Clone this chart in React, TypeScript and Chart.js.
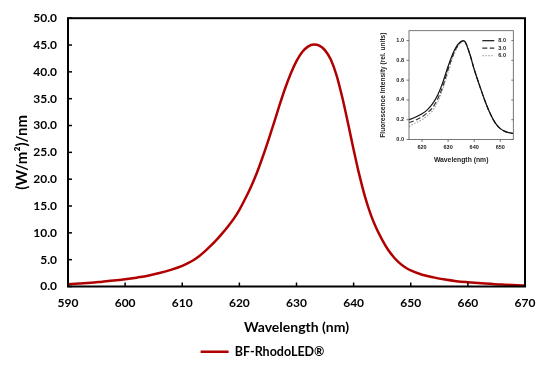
import React, { useEffect, useRef } from "react";
import { Chart, registerables } from "chart.js";

Chart.register(...registerables);

// ---- Main chart data ----
const wavelengths = [
  590, 592, 594, 596, 598, 600, 602, 604, 606, 608, 610, 611, 612, 613, 614, 615, 616, 617, 618, 619,
  620, 621, 622, 623, 624, 625, 626, 627, 628, 629, 630, 631, 632, 633, 634, 635, 636, 637, 638, 639,
  640, 641, 642, 643, 644, 645, 646, 647, 648, 649, 650, 652, 654, 656, 658, 660, 663, 666, 670,
];
const irradiance = [
  0.4, 0.55, 0.7, 0.9, 1.1, 1.35, 1.65, 2.0, 2.5, 3.1, 3.85, 4.35, 4.95, 5.7, 6.6, 7.6, 8.7, 9.9, 11.2, 12.6,
  14.3, 16.3, 18.5, 21.0, 23.9, 27.0, 30.3, 33.7, 36.9, 39.7, 42.0, 43.7, 44.7, 45.1, 44.9, 44.0, 42.3, 39.4, 35.3, 30.5,
  25.5, 20.8, 16.7, 13.4, 10.8, 8.7, 6.9, 5.5, 4.4, 3.6, 3.0, 2.2, 1.7, 1.3, 1.0, 0.8, 0.55, 0.35, 0.2,
];
const seriesLabel = "BF-RhodoLED®";
const xTitle = "Wavelength (nm)";
const yTitle = "(W/m²)/nm";

// ---- Inset data ----
const insetWavelengths = [615, 617, 620, 622, 624, 626, 628, 630, 632, 634, 636, 638, 640, 642, 644, 646, 648, 650, 652, 655];
const insetSolid = [0.2, 0.22, 0.26, 0.3, 0.36, 0.45, 0.58, 0.74, 0.88, 0.97, 1.0, 0.89, 0.71, 0.55, 0.4, 0.27, 0.17, 0.11, 0.08, 0.06];
const insetDashed = [0.17, 0.19, 0.23, 0.27, 0.32, 0.41, 0.54, 0.71, 0.86, 0.96, 1.0, 0.89, 0.71, 0.55, 0.4, 0.27, 0.17, 0.11, 0.08, 0.06];
const insetDotted = [0.13, 0.16, 0.2, 0.24, 0.29, 0.38, 0.51, 0.68, 0.84, 0.95, 0.99, 0.89, 0.71, 0.55, 0.4, 0.27, 0.17, 0.11, 0.08, 0.06];
const insetLabels = ["8.0", "3.0", "6.0"];
const insetXTicks = [620, 630, 640, 650];
const insetYTicks = [0, 0.2, 0.4, 0.6, 0.8, 1.0];
const insetXTitle = "Wavelength (nm)";
const insetYTitle = "Fluorescence Intensity (rel. units)";

const FONT = "Lato, 'Open Sans', sans-serif";
const IFONT = "'Liberation Sans', Arial, sans-serif";

const frameTicks = {
  id: "frameTicks",
  afterDraw(chart: any, _args: any, opts: any) {
    const { ctx, chartArea } = chart;
    const { left, right, top, bottom } = chartArea;
    ctx.save();
    ctx.strokeStyle = opts.color;
    ctx.lineWidth = opts.tickWidth;
    const ys = chart.scales.y;
    ys.ticks.forEach((t: any) => {
      const p = ys.getPixelForValue(t.value);
      ctx.beginPath();
      ctx.moveTo(left, p);
      ctx.lineTo(left + opts.len, p);
      ctx.stroke();
      if (opts.rightLen) {
        ctx.beginPath();
        ctx.moveTo(right, p);
        ctx.lineTo(right - opts.rightLen, p);
        ctx.stroke();
      }
    });
    const xs = chart.scales.x;
    xs.ticks.forEach((t: any) => {
      const p = xs.getPixelForValue(t.value);
      ctx.beginPath();
      ctx.moveTo(p, bottom);
      ctx.lineTo(p, bottom - opts.len);
      ctx.stroke();
    });
    ctx.lineWidth = opts.width;
    ctx.strokeRect(left, top, right - left, bottom - top);
    ctx.restore();
  },
};

const insetLegend = {
  id: "insetLegend",
  afterDraw(chart: any, _args: any, opts: any) {
    if (!opts || !opts.enabled) return;
    const { ctx, chartArea } = chart;
    ctx.save();
    chart.data.datasets.forEach((ds: any, i: number) => {
      const y = chartArea.top + 10 + i * 7.5;
      ctx.strokeStyle = ds.borderColor;
      ctx.lineWidth = ds.borderWidth;
      ctx.setLineDash(ds.borderDash || []);
      ctx.beginPath();
      ctx.moveTo(chartArea.right - 31, y);
      ctx.lineTo(chartArea.right - 19, y);
      ctx.stroke();
      ctx.setLineDash([]);
      ctx.fillStyle = "#222";
      ctx.font = `bold 5.5px ${IFONT}`;
      ctx.textBaseline = "middle";
      ctx.textAlign = "left";
      ctx.fillText(ds.label, chartArea.right - 15, y);
    });
    ctx.restore();
  },
};

export default function App() {
  const mainRef = useRef<HTMLCanvasElement | null>(null);
  const insetRef = useRef<HTMLCanvasElement | null>(null);

  useEffect(() => {
    document.body.style.margin = "0";
    const main = new Chart(mainRef.current as HTMLCanvasElement, {
      type: "line",
      data: {
        datasets: [
          {
            label: seriesLabel,
            data: wavelengths.map((w, i) => ({ x: w, y: irradiance[i] })),
            borderColor: "#B00000",
            backgroundColor: "#B00000",
            borderWidth: 2.5,
            pointRadius: 0,
            cubicInterpolationMode: "monotone",
            fill: false,
          },
        ],
      },
      options: {
        animation: false,
        responsive: false,
        maintainAspectRatio: false,
        layout: { padding: { top: 17, right: 22, left: 0, bottom: 3 } },
        scales: {
          x: {
            type: "linear",
            min: 590,
            max: 670,
            grid: { display: false, drawTicks: false },
            border: { display: false },
            ticks: {
              stepSize: 10,
              padding: 9,
              color: "#000",
              font: { family: FONT, size: 12, weight: "bold" },
              callback: (v: any) => String(v),
            },
            title: {
              display: true,
              text: xTitle,
              color: "#000",
              font: { family: FONT, size: 14, weight: "bold" },
              padding: { top: 0, bottom: 0 },
            },
            afterFit: (s: any) => {
              s.height = 49;
            },
          },
          y: {
            min: 0,
            max: 50,
            grid: { display: false, drawTicks: false },
            border: { display: false },
            ticks: {
              stepSize: 5,
              padding: 11,
              color: "#000",
              font: { family: FONT, size: 12, weight: "bold" },
              callback: (v: any) => Number(v).toFixed(1),
            },
            title: {
              display: true,
              text: yTitle,
              color: "#000",
              font: { family: FONT, size: 15, weight: "bold" },
              padding: { top: 13, bottom: 0 },
            },
            afterFit: (s: any) => {
              s.width = 68;
            },
          },
        },
        plugins: {
          legend: {
            position: "bottom",
            labels: {
              usePointStyle: true,
              pointStyle: "line",
              pointStyleWidth: 28,
              color: "#000",
              padding: 10,
              font: { family: FONT, size: 12.5, weight: "bold" },
            },
          },
          tooltip: { enabled: false },
          frameTicks: { color: "#000", width: 2, tickWidth: 1.5, len: 4 },
        } as any,
      },
      plugins: [frameTicks],
    } as any);

    const insetStyles = [
      { label: insetLabels[0], data: insetSolid, color: "#111", dash: [] as number[] },
      { label: insetLabels[1], data: insetDashed, color: "#333", dash: [5, 2.5] },
      { label: insetLabels[2], data: insetDotted, color: "#aaa", dash: [1.5, 1.5] },
    ];
    const inset = new Chart(insetRef.current as HTMLCanvasElement, {
      type: "line",
      data: {
        datasets: insetStyles.map((s) => ({
          label: s.label,
          data: insetWavelengths.map((w, i) => ({ x: w, y: s.data[i] })),
          borderColor: s.color,
          borderDash: s.dash,
          borderWidth: 1.2,
          pointRadius: 0,
          cubicInterpolationMode: "monotone",
          fill: false,
        })),
      },
      options: {
        animation: false,
        responsive: false,
        maintainAspectRatio: false,
        layout: { padding: { top: 10.7, right: 10.7, left: 0, bottom: 0 } },
        scales: {
          x: {
            type: "linear",
            min: 615,
            max: 655,
            grid: { display: false, drawTicks: false },
            border: { display: false },
            afterBuildTicks: (s: any) => {
              s.ticks = insetXTicks.map((v) => ({ value: v }));
            },
            ticks: {
              padding: 5,
              color: "#222",
              font: { family: IFONT, size: 5.5, weight: "bold" },
              callback: (v: any) => String(v),
            },
            title: {
              display: true,
              text: insetXTitle,
              color: "#222",
              font: { family: IFONT, size: 6.8, weight: "bold" },
              padding: { top: 0, bottom: 3.5 },
            },
            afterFit: (s: any) => {
              s.height = 28.5;
            },
          },
          y: {
            min: 0,
            max: 1.1,
            grid: { display: false, drawTicks: false },
            border: { display: false },
            afterBuildTicks: (s: any) => {
              s.ticks = insetYTicks.map((v) => ({ value: v }));
            },
            ticks: {
              padding: 5,
              color: "#222",
              font: { family: IFONT, size: 5.5, weight: "bold" },
              callback: (v: any) => Number(v).toFixed(1),
            },
            title: {
              display: true,
              text: insetYTitle,
              color: "#222",
              font: { family: IFONT, size: 6.6, weight: "bold" },
              padding: { top: 3, bottom: 0 },
            },
            afterFit: (s: any) => {
              s.width = 33;
            },
          },
        },
        plugins: {
          legend: { display: false },
          tooltip: { enabled: false },
          frameTicks: { color: "#555", width: 0.8, tickWidth: 0.8, len: -2.5, rightLen: 2 },
          insetLegend: { enabled: true },
        } as any,
      },
      plugins: [frameTicks, insetLegend],
    } as any);

    return () => {
      main.destroy();
      inset.destroy();
    };
  }, []);

  return (
    <div style={{ position: "relative", width: 547, height: 371, background: "#fff" }}>
      <canvas ref={mainRef} width={547} height={371} style={{ position: "absolute", left: 0, top: 0 }} />
      <canvas
        ref={insetRef}
        width={148}
        height={148}
        style={{ position: "absolute", left: 376, top: 20, background: "#fff" }}
      />
    </div>
  );
}
